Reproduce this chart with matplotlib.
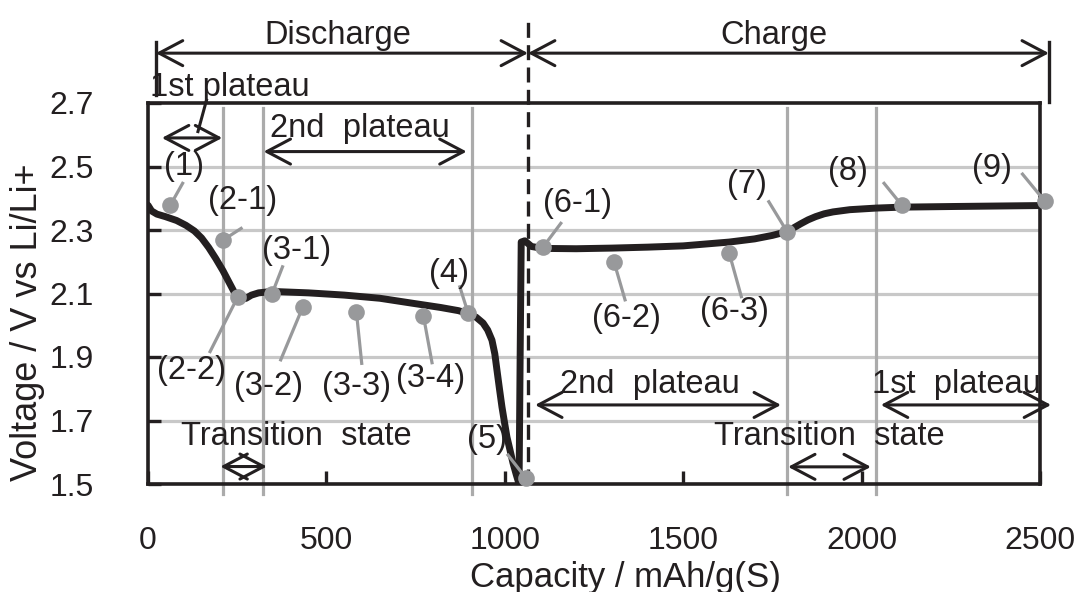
import matplotlib.pyplot as plt

plt.rcParams['font.family'] = ['Liberation Sans', 'DejaVu Sans']

# discharge / charge curve
discharge_cap = [0, 10, 25, 49, 80, 106, 130, 150, 170, 190, 210, 225, 240, 252, 262, 275,
                 290, 310, 335, 360, 450, 550, 650, 743, 820, 870, 897, 920, 939, 952, 964,
                 972, 978, 985, 992, 999, 1006, 1015, 1023, 1032, 1040]
discharge_v = [2.378, 2.360, 2.350, 2.342, 2.330, 2.315, 2.297, 2.275, 2.245, 2.210, 2.172,
               2.140, 2.108, 2.090, 2.082, 2.085, 2.095, 2.102, 2.105, 2.106, 2.102, 2.095,
               2.085, 2.069, 2.056, 2.046, 2.037, 2.025, 2.007, 1.985, 1.953, 1.910, 1.859,
               1.800, 1.743, 1.695, 1.648, 1.605, 1.566, 1.530, 1.500]
charge_cap = [1040, 1043, 1046, 1056, 1075, 1107, 1200, 1300, 1400, 1500, 1629, 1700, 1750,
              1791, 1810, 1830, 1850, 1871, 1895, 1920, 1967, 2040, 2112, 2256, 2500]
charge_v = [1.500, 1.900, 2.262, 2.266, 2.248, 2.242, 2.241, 2.243, 2.246, 2.250, 2.262,
            2.272, 2.283, 2.295, 2.307, 2.320, 2.332, 2.342, 2.351, 2.357, 2.364, 2.369,
            2.372, 2.374, 2.377]

# measurement points
point_names = ['(1)', '(2-1)', '(2-2)', '(3-1)', '(3-2)', '(3-3)', '(3-4)', '(4)', '(5)',
               '(6-1)', '(6-2)', '(6-3)', '(7)', '(8)', '(9)']
point_cap = [63, 210, 251, 348, 434, 584, 772, 897, 1059, 1107, 1306, 1629, 1791, 2112, 2514]
point_v = [2.379, 2.268, 2.088, 2.100, 2.058, 2.043, 2.029, 2.039, 1.519, 2.246, 2.200,
           2.227, 2.295, 2.379, 2.390]

# state boundaries
boundary_cap = [210, 322, 908, 1791, 2040]
switch_cap = 1065

xticks = [0, 500, 1000, 1500, 2000, 2500]
yticks = [1.5, 1.7, 1.9, 2.1, 2.3, 2.5, 2.7]
grid_v = [1.7, 1.9, 2.1, 2.3, 2.5]

# where the point labels sit: (text x, text y, leader end x, leader end y)
label_pos = [(101, 2.50, 97, 2.447), (266, 2.394, 261, 2.305), (121, 1.859, 174, 1.917),
             (415, 2.237, 377, 2.184), (338, 1.806, 372, 1.891), (584, 1.806, 599, 1.880),
             (792, 1.833, 796, 1.882), (845, 2.164, 874, 2.121), (949, 1.639, 1009, 1.591),
             (1205, 2.384, 1157, 2.321), (1340, 2.022, 1337, 2.080), (1644, 2.043, 1663, 2.090),
             (1678, 2.442, 1740, 2.389), (1962, 2.484, 2063, 2.447), (2365, 2.495, 2451, 2.476)]

dark = '#231f20'
gray = '#98999b'
fs = 23.5

fig = plt.figure(figsize=(10.81, 5.92), dpi=100)
ax = fig.add_axes([148 / 1081, 1 - 484 / 592, 892 / 1081, 381 / 592])
ax.set_xlim(0, 2500)
ax.set_ylim(1.5, 2.7)

for v in grid_v:
    ax.plot([0, 2500], [v, v], color='#c8c8c8', lw=2.3, zorder=1)
for c in boundary_cap:
    ax.plot([c, c], [1.47, 2.684], color='#ababab', lw=2.3, zorder=1, clip_on=False)

ax.plot([switch_cap, switch_cap], [1.5, 2.96], color=dark, lw=2.4, dashes=(4.5, 2.2),
        zorder=3, clip_on=False)

ax.plot(discharge_cap, discharge_v, color=dark, lw=5, solid_joinstyle='round',
        solid_capstyle='round', zorder=4)
ax.plot(charge_cap, charge_v, color=dark, lw=5, solid_joinstyle='round',
        solid_capstyle='round', zorder=4)

for name, cx, cv, (tx, ty, lx, ly) in zip(point_names, point_cap, point_v, label_pos):
    ax.plot([cx, lx], [cv, ly], color=gray, lw=2.3, zorder=5, clip_on=False)
    ax.plot(cx, cv, 'o', ms=12, color=gray, mec='none', zorder=6, clip_on=False)
    ax.text(tx, ty, name, fontsize=fs, ha='center', va='center', color=dark, zorder=7)


def arrow(x0, x1, y):
    ax.annotate('', xy=(x1, y), xytext=(x0, y), annotation_clip=False,
                arrowprops=dict(arrowstyle='<->,head_length=0.85,head_width=0.45',
                                mutation_scale=20, lw=2.2, color=dark,
                                shrinkA=0, shrinkB=0))


# discharge / charge
arrow(22, switch_cap, 2.857)
arrow(switch_cap, 2525, 2.857)
ax.plot([22, 22], [2.725, 2.892], color=dark, lw=2.4, clip_on=False)
ax.plot([2525, 2525], [2.703, 2.892], color=dark, lw=2.4, clip_on=False)
ax.text(531, 2.914, 'Discharge', fontsize=fs, ha='center', va='center', color=dark)
ax.text(1755, 2.914, 'Charge', fontsize=fs, ha='center', va='center', color=dark)

# plateaus and transitions
ax.text(5, 2.75, '1st plateau', fontsize=fs, ha='left', va='center', color=dark)
ax.plot([164, 140], [2.709, 2.61], color=dark, lw=2.2, clip_on=False)
arrow(39, 208, 2.59)
ax.text(594, 2.62, '2nd  plateau', fontsize=fs, ha='center', va='center', color=dark)
arrow(324, 893, 2.547)
ax.text(416, 1.649, 'Transition  state', fontsize=fs, ha='center', va='center', color=dark)
arrow(203, 333, 1.555)
ax.text(1407, 1.812, '2nd  plateau', fontsize=fs, ha='center', va='center', color=dark)
arrow(1085, 1774, 1.749)
ax.text(2267, 1.812, '1st  plateau', fontsize=fs, ha='center', va='center', color=dark)
arrow(2054, 2531, 1.749)
ax.text(1909, 1.649, 'Transition  state', fontsize=fs, ha='center', va='center', color=dark)
arrow(1794, 2026, 1.554)

ax.set_xticks(xticks)
ax.set_yticks(yticks)
ax.set_yticklabels([f'{v:.1f}' for v in yticks])
ax.tick_params(direction='in', length=9.5, width=2.4, color=dark, labelsize=23,
               labelcolor=dark)
ax.tick_params(axis='y', pad=39)
ax.tick_params(axis='x', pad=30)
for s in ax.spines.values():
    s.set_linewidth(2.6)
    s.set_color(dark)

fig.text(28 / 1081, 1 - 322 / 592, 'Voltage / V vs Li/Li+', rotation=90, fontsize=26,
         ha='center', va='center', color=dark)
fig.text(625 / 1081, 1 - 577 / 592, 'Capacity / mAh/g(S)', fontsize=25,
         ha='center', va='center', color=dark)

fig.savefig('out.png', dpi=100)
